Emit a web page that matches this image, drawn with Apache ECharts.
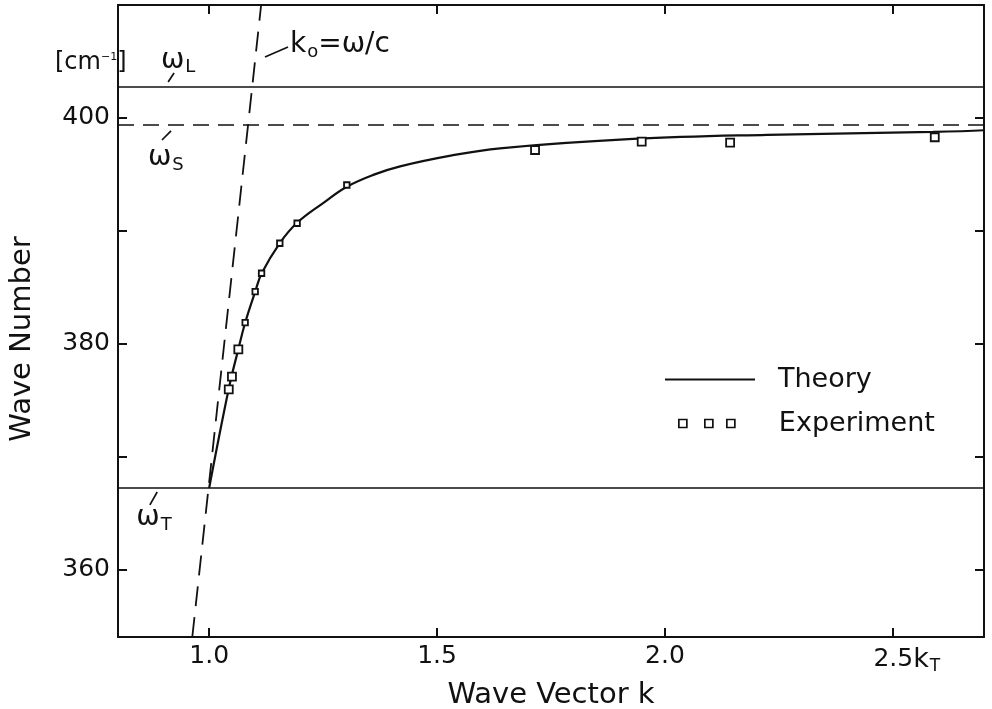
<!DOCTYPE html>
<html><head><meta charset="utf-8">
<script src="https://cdn.jsdelivr.net/npm/echarts@6/dist/echarts.min.js"></script>
<style>html,body{margin:0;padding:0;background:#fff}#c{width:992px;height:709px}</style>
</head><body><div id="c"></div><script>
// ---- data ----
const xTicks = [1.0, 1.5, 2.0, 2.5];
const xLabelValues = [1.0, 1.5, 2.0, 2.5];
const yTicks = [360, 370, 380, 390, 400];
const yLabelValues = [360, 380, 400];

const theoryK = [1.000, 1.043, 1.064, 1.079, 1.101, 1.115, 1.155, 1.193, 1.250, 1.302, 1.360, 1.419, 1.530, 1.638, 1.930, 2.224, 2.588, 2.700];
const theoryW = [367.2, 376.0, 379.5, 381.85, 384.6, 386.2, 388.9, 390.7, 392.45, 393.9, 394.95, 395.7, 396.65, 397.3, 398.13, 398.5, 398.75, 398.9];

const expK = [1.043, 1.050, 1.064, 1.079, 1.101, 1.115, 1.155, 1.193, 1.302, 1.715, 1.949, 2.143, 2.592];
const expW = [375.95, 377.07, 379.49, 381.85, 384.60, 386.23, 388.89, 390.66, 394.05, 397.15, 397.89, 397.80, 398.28];

const omegaL = 402.73;
const omegaS = 399.37;
const omegaT = 367.23;

const lightK = [0.963, 1.114];
const lightW = [354, 410];

const annText = ['{w|ω}{s|L}', '{w|ω}{s|S}', '{w|ω}{s|T}', '{w|k}{s|o}{w|=ω/c}'];
const annK = [0.932, 0.905, 0.879, 1.287];
const annW = [405.1, 396.45, 364.55, 406.45];
const leaderK = [[0.910, 0.923], [0.8965, 0.9163], [0.870, 0.886], [1.1225, 1.173]];
const leaderW = [[403.18, 403.97], [398.04, 398.84], [365.70, 366.85], [405.39, 406.28]];

// ---- chart ----
const INK = '#111111';
const FONT = 'DejaVu Sans';
const chart = echarts.init(document.getElementById('c'));

const zip = (a, b) => a.map((v, i) => [v, b[i]]);

const series = [
  {
    name: 'Theory', type: 'line', data: zip(theoryK, theoryW),
    symbol: 'none', smooth: 0.4,
    itemStyle: { color: INK },
    lineStyle: { color: INK, width: 2.2 }, z: 3, silent: true,
    markLine: {
      silent: true, symbol: ['none', 'none'], label: { show: false },
      data: [
        { yAxis: omegaL, lineStyle: { type: 'solid', color: INK, width: 1.7 } },
        { yAxis: omegaS, lineStyle: { type: [16, 9], color: INK, width: 1.7 } },
        { yAxis: omegaT, lineStyle: { type: 'solid', color: INK, width: 1.7 } }
      ]
    }
  },
  {
    name: 'Experiment', type: 'scatter', data: zip(expK, expW),
    symbol: 'rect',
    symbolSize: v => (v[0] < 1.07 || v[0] > 1.5) ? 8 : 5.5,
    itemStyle: { color: '#fff', borderColor: INK, borderWidth: 1.8, opacity: 1 },
    z: 5, silent: true
  },
  {
    name: 'light', type: 'line', data: zip(lightK, lightW), symbol: 'none',
    lineStyle: { color: INK, width: 1.8, type: [20, 11] }, silent: true, z: 2
  },
  {
    name: 'ann', type: 'scatter', symbolSize: 0, silent: true, z: 6,
    itemStyle: { opacity: 1 },
    data: annK.map((k, i) => ({ value: [k, annW[i]], label: { formatter: annText[i] } })),
    label: {
      show: true, position: 'inside', color: INK, fontFamily: FONT, textBorderWidth: 0,
      rich: {
        w: { fontSize: 28, fontFamily: FONT, color: INK, lineHeight: 32 },
        s: { fontSize: 18, fontFamily: FONT, color: INK, padding: [14, 0, 0, 1] }
      }
    }
  }
];
leaderK.forEach((ks, i) => {
  series.push({
    name: 'lead' + i, type: 'line', symbol: 'none', silent: true,
    data: zip(ks, leaderW[i]), lineStyle: { color: INK, width: 1.7 }
  });
});

const axisFont = { fontFamily: FONT, fontSize: 25, color: INK };

chart.setOption({
  animation: false,
  backgroundColor: '#fff',
  grid: { left: 118, right: 8, top: 5, bottom: 72, containLabel: false, outerBoundsMode: 'none' },
  legend: [
    {
      data: [{ name: 'Theory', icon: 'rect', itemStyle: { color: INK, borderWidth: 0 } }],
      left: 665, top: 366, padding: 0, itemWidth: 90, itemHeight: 2,
      selectedMode: false,
      textStyle: { fontFamily: FONT, fontSize: 27, color: INK, padding: [0, 0, 0, 18] }
    },
    {
      data: [{ name: 'Experiment', icon: 'path://M0,0H8V8H0Z M26,0H34V8H26Z M48,0H56V8H48Z',
               itemStyle: { color: '#fff', borderColor: INK, borderWidth: 1.7 } }],
      left: 678, top: 410, padding: 0, itemWidth: 56, itemHeight: 8,
      selectedMode: false,
      textStyle: { fontFamily: FONT, fontSize: 27, color: INK, padding: [0, 0, 0, 39] }
    }
  ],
  xAxis: [
    {
      type: 'value', position: 'bottom', min: 0.8, max: 2.7,
      name: 'Wave Vector k', nameLocation: 'middle', nameGap: 44,
      nameTextStyle: { fontFamily: FONT, fontSize: 29, color: INK },
      axisLine: { show: true, onZero: false, lineStyle: { color: INK, width: 2 } },
      axisTick: { show: true, inside: true, length: 9, customValues: xTicks, lineStyle: { color: INK, width: 2 } },
      axisLabel: Object.assign({}, axisFont, {
        customValues: xLabelValues, margin: 7,
        formatter: v => Math.abs(v - 2.5) < 1e-6 ? '{pad| }2.5{k|k}{sub|T}' : v.toFixed(1),
        rich: {
          pad: { width: 28, fontSize: 25, fontFamily: FONT },
          k: { fontSize: 27, fontFamily: FONT, color: INK },
          sub: { fontSize: 17, fontFamily: FONT, color: INK, padding: [14, 0, 0, 1] }
        }
      }),
      splitLine: { show: false }
    },
    {
      type: 'value', position: 'top', min: 0.8, max: 2.7,
      axisLine: { show: true, onZero: false, lineStyle: { color: INK, width: 2 } },
      axisTick: { show: true, inside: true, length: 9, customValues: xTicks, lineStyle: { color: INK, width: 2 } },
      axisLabel: { show: false }, splitLine: { show: false }
    }
  ],
  yAxis: [
    {
      type: 'value', position: 'left', min: 354, max: 410,
      name: 'Wave Number', nameLocation: 'middle', nameGap: 81, nameRotate: 90,
      nameTextStyle: { fontFamily: FONT, fontSize: 29, color: INK, padding: [0, 36, 0, 0] },
      axisLine: { show: true, onZero: false, lineStyle: { color: INK, width: 2 } },
      axisTick: { show: true, inside: true, length: 9, customValues: yTicks, lineStyle: { color: INK, width: 2 } },
      axisLabel: Object.assign({}, axisFont, { customValues: yLabelValues, margin: 8 }),
      splitLine: { show: false }
    },
    {
      type: 'value', position: 'right', min: 354, max: 410,
      axisLine: { show: true, onZero: false, lineStyle: { color: INK, width: 2 } },
      axisTick: { show: true, inside: true, length: 9, customValues: yTicks, lineStyle: { color: INK, width: 2 } },
      axisLabel: { show: false }, splitLine: { show: false }
    }
  ],
  graphic: [
    {
      type: 'text', left: 55, top: 51, silent: true,
      style: {
        text: '{m|[cm}{u|−1}{m|]}', fill: INK,
        rich: {
          m: { fontSize: 24, fontFamily: FONT, fill: INK },
          u: { fontSize: 11, fontFamily: FONT, fill: INK, padding: [0, 0, 12, 0] }
        }
      }
    }
  ],
  series: series
});
</script></body></html>
